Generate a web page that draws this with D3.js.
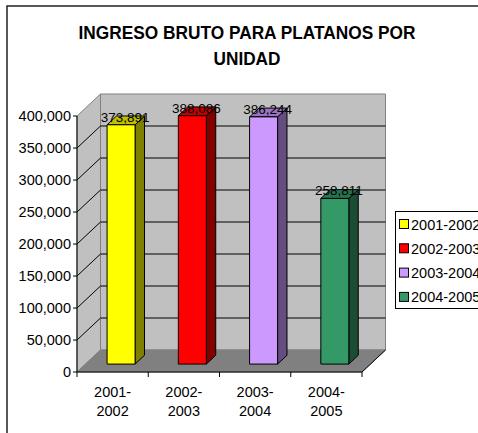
<!DOCTYPE html>
<head>
<meta charset="utf-8">
<script src="https://d3js.org/d3.v7.min.js"></script>
<style>
  body { margin: 0; background: #fff; }
  text { font-family: "Liberation Sans", Arial, sans-serif; fill: #000; }
</style>
</head>
<body>
<script>
// data
var categories = ["2001-2002", "2002-2003", "2003-2004", "2004-2005"],
    values = [373891, 388086, 386244, 258811],
    frontColors = ["#ffff00", "#ff0000", "#cc99ff", "#339966"],
    sideColors = ["#808000", "#800000", "#664d80", "#1a4d33"],
    topColors = ["#c0c000", "#c00000", "#9973bf", "#267350"],
    yTicks = [0, 50000, 100000, 150000, 200000, 250000, 300000, 350000, 400000],
    titleLines = ["INGRESO BRUTO PARA PLATANOS POR", "UNIDAD"];

var W = 478, H = 433;
var svg = d3.select("body").append("svg").attr("width", W).attr("height", H);

// 3d depth vector (front plane -> back wall)
var DX = 23.5, DY = -22;
var zFront = 0.36, zBack = 0.76;

var x = d3.scaleBand().domain(categories).range([77, 362]);
var y = d3.scaleLinear().domain([0, 400000]).range([372, 116]);
var fmt = d3.format(",");

function P(px, v, z) { return [px + z * DX, y(v) + z * DY]; }
function poly(pts) { return pts.map(function(p) { return p.join(","); }).join(" "); }

var x0 = x.range()[0], x1 = x.range()[1];

// back wall
svg.append("polygon")
    .attr("points", poly([P(x0, 0, 1), P(x1, 0, 1), P(x1, 400000, 1), P(x0, 400000, 1)]))
    .attr("fill", "#c0c0c0").attr("stroke", "#808080");
// left wall
svg.append("polygon")
    .attr("points", poly([P(x0, 0, 0), P(x0, 0, 1), P(x0, 400000, 1), P(x0, 400000, 0)]))
    .attr("fill", "#c0c0c0").attr("stroke", "#808080");
// floor
svg.append("polygon")
    .attr("points", poly([P(x0, 0, 0), P(x1, 0, 0), P(x1, 0, 1), P(x0, 0, 1)]))
    .attr("fill", "#808080").attr("stroke", "#808080");

// gridlines
var grid = svg.append("g").attr("stroke", "#000").attr("stroke-width", 1);
yTicks.filter(function(d) { return d > 0 && d < 400000; }).forEach(function(v) {
  var a = P(x0, v, 0), b = P(x0, v, 1), c = P(x1, v, 1);
  grid.append("polyline").attr("points", poly([a, b, c])).attr("fill", "none");
});
// floor right edge
svg.append("line")
    .attr("x1", x1).attr("y1", y(0)).attr("x2", x1 + DX).attr("y2", y(0) + DY)
    .attr("stroke", "#000");

// bars
var bw = 28;
categories.forEach(function(c, i) {
  var cx = x(c) + x.bandwidth() / 2;
  var l = cx - bw / 2, r = cx + bw / 2, v = values[i];
  var g = svg.append("g").attr("stroke", "#000").attr("stroke-width", 1).attr("stroke-linejoin", "round");
  g.append("polygon")
      .attr("points", poly([P(r, 0, zFront), P(r, 0, zBack), P(r, v, zBack), P(r, v, zFront)]))
      .attr("fill", sideColors[i]);
  g.append("polygon")
      .attr("points", poly([P(l, v, zFront), P(r, v, zFront), P(r, v, zBack), P(l, v, zBack)]))
      .attr("fill", topColors[i]);
  g.append("polygon")
      .attr("points", poly([P(l, 0, zFront), P(r, 0, zFront), P(r, v, zFront), P(l, v, zFront)]))
      .attr("fill", frontColors[i]);
});

// data labels
categories.forEach(function(c, i) {
  var p = P(x(c) + x.bandwidth() / 2, values[i], zFront);
  svg.append("text")
      .attr("x", p[0] + 4).attr("y", p[1] - 3)
      .attr("text-anchor", "middle")
      .style("font-size", "13.5px")
      .text(fmt(values[i]));
});

// y axis
svg.append("line").attr("x1", x0).attr("x2", x0).attr("y1", y(400000)).attr("y2", y(0)).attr("stroke", "#000");
yTicks.forEach(function(v) {
  svg.append("line").attr("x1", x0 - 4).attr("x2", x0).attr("y1", y(v)).attr("y2", y(v)).attr("stroke", "#000");
  svg.append("text")
      .attr("x", x0 - 6).attr("y", y(v) + 5)
      .attr("text-anchor", "end")
      .style("font-size", "14.5px")
      .text(fmt(v));
});

// x axis
svg.append("line").attr("x1", x0).attr("x2", x1).attr("y1", y(0)).attr("y2", y(0)).attr("stroke", "#000");
x.domain().concat(["end"]).forEach(function(c, i) {
  var tx = i < categories.length ? x(c) : x1;
  svg.append("line").attr("x1", tx).attr("x2", tx).attr("y1", y(0)).attr("y2", y(0) + 5).attr("stroke", "#000");
});
categories.forEach(function(c) {
  var parts = c.split("-");
  var t = svg.append("text")
      .attr("x", x(c) + x.bandwidth() / 2).attr("y", 397)
      .attr("text-anchor", "middle")
      .style("font-size", "14.5px");
  t.append("tspan").attr("x", x(c) + x.bandwidth() / 2).text(parts[0] + "-");
  t.append("tspan").attr("x", x(c) + x.bandwidth() / 2).attr("dy", 19).text(parts[1]);
});

// legend (runs past the right edge, as in the original)
var lg = svg.append("g");
lg.append("rect").attr("x", 395.5).attr("y", 211.5).attr("width", 120).attr("height", 97)
    .attr("fill", "#fff").attr("stroke", "#000");
categories.forEach(function(c, i) {
  var ly = 224 + i * 24.3;
  lg.append("rect").attr("x", 399.5).attr("y", ly - 4.5).attr("width", 9).attr("height", 9)
      .attr("fill", frontColors[i]).attr("stroke", "#000");
  lg.append("text").attr("x", 411).attr("y", ly + 5.5)
      .style("font-size", "14.5px").text(c);
});

// title
titleLines.forEach(function(t, i) {
  svg.append("text")
      .attr("x", 247).attr("y", 39 + i * 26)
      .attr("text-anchor", "middle")
      .attr("textLength", i === 0 ? 337 : 67)
      .attr("lengthAdjust", "spacingAndGlyphs")
      .style("font-size", "18px").style("font-weight", "bold")
      .text(t);
});

// outer border
svg.append("rect").attr("x", 7).attr("y", 6).attr("width", 540).attr("height", 480)
    .attr("fill", "none").attr("stroke", "#222").attr("stroke-width", 1.5);
</script>
</body>
</html>
